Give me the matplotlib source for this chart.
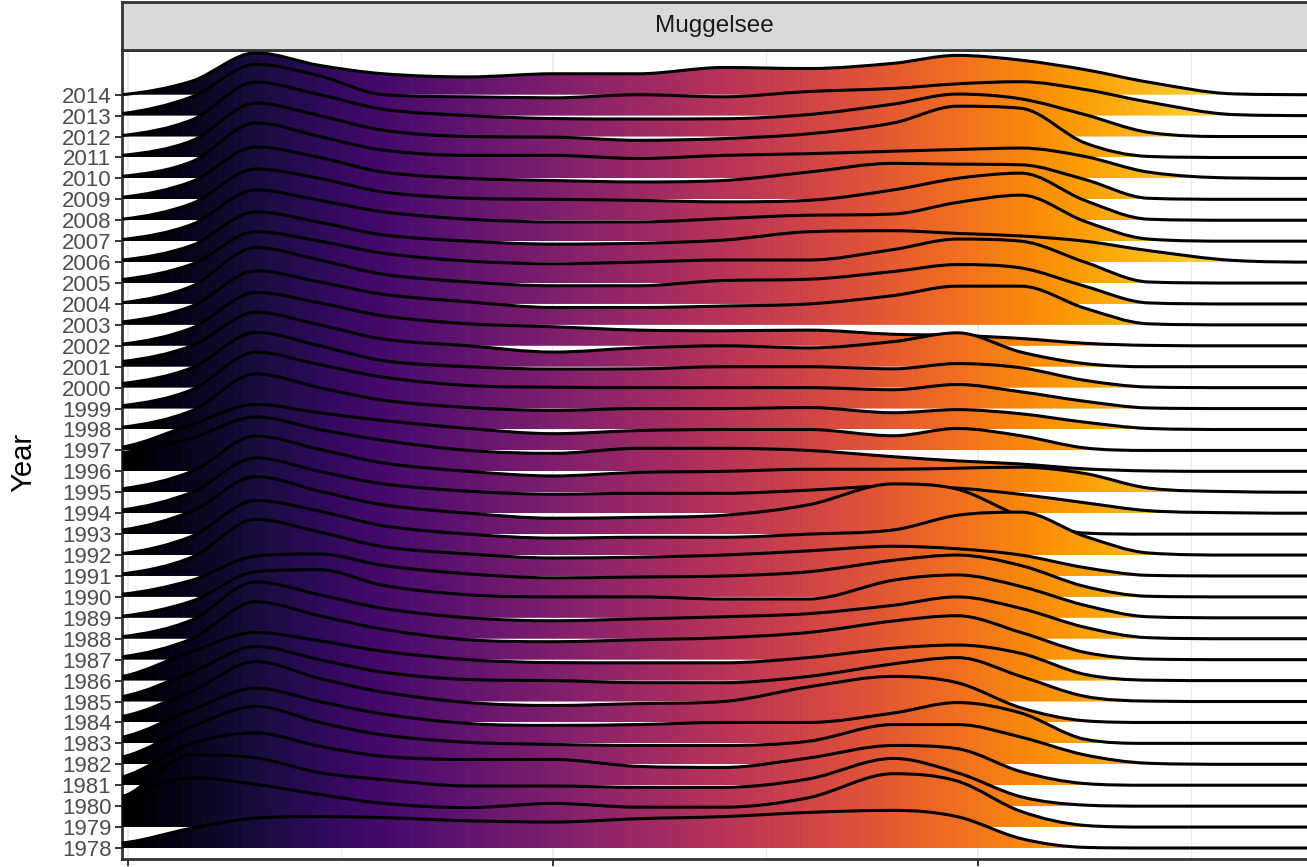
import numpy as np
import matplotlib
matplotlib.use("Agg")
import matplotlib.pyplot as plt
from matplotlib.path import Path
from matplotlib.patches import PathPatch

temps = [-0.14, 1.5, 3, 4.5, 6, 8, 10, 12, 14, 16, 18, 19.5, 21, 22.5, 24, 26, 28]
x_ticks = [0, 10, 20]
x_minor = [5, 15, 25]
lake = "Muggelsee"
y_title = "Year"

# ridge heights, in units of the spacing between two years
r1978 = [0.24, 0.95, 1.43, 1.5, 1.45, 1.3, 1.24, 1.4, 1.5, 1.7, 1.8, 1.5, 0.45, 0.03, 0.0, 0.0, 0.0]
r1979 = [1.48, 2.36, 2.04, 1.56, 1.13, 0.93, 1.13, 0.95, 0.95, 1.4, 2.55, 2.2, 0.75, 0.08, 0.0, 0.0, 0.0]
r1980 = [0.45, 2.45, 2.31, 1.6, 1.27, 0.96, 0.96, 0.9, 0.9, 1.3, 2.28, 1.6, 0.45, 0.05, 0.0, 0.0, 0.0]
r1981 = [0.4, 2.0, 2.5, 1.86, 1.38, 1.23, 1.23, 0.9, 0.85, 1.3, 1.9, 1.75, 0.65, 0.08, 0.0, 0.0, 0.0]
r1982 = [0.35, 1.8, 2.77, 2.0, 1.4, 1.05, 0.95, 0.9, 0.9, 1.1, 1.9, 1.9, 1.3, 0.45, 0.05, 0.0, 0.0]
r1983 = [0.3, 1.6, 2.64, 2.0, 1.4, 0.95, 0.86, 0.9, 1.0, 1.0, 1.45, 1.95, 1.45, 0.2, 0.0, 0.0, 0.0]
r1984 = [0.29, 1.5, 2.91, 2.1, 1.45, 0.95, 0.81, 0.9, 1.0, 1.7, 2.2, 1.9, 0.7, 0.08, 0.0, 0.0, 0.0]
r1985 = [0.24, 1.4, 2.63, 2.0, 1.4, 1.05, 1.0, 0.9, 0.9, 1.2, 1.8, 2.1, 1.2, 0.25, 0.02, 0.0, 0.0]
r1986 = [0.2, 1.4, 2.3, 1.9, 1.4, 1.0, 0.86, 0.85, 0.85, 1.1, 1.55, 1.7, 1.3, 0.3, 0.02, 0.0, 0.0]
r1987 = [0.14, 1.0, 2.77, 2.1, 1.45, 0.95, 0.86, 0.95, 1.05, 1.3, 1.85, 2.1, 1.3, 0.35, 0.03, 0.0, 0.0]
r1988 = [0.1, 0.9, 2.72, 2.1, 1.45, 1.0, 0.86, 0.95, 1.05, 1.2, 1.6, 2.0, 1.45, 0.55, 0.05, 0.0, 0.0]
r1989 = [0.08, 0.8, 2.2, 2.3, 1.55, 1.1, 1.0, 1.0, 0.9, 0.9, 1.8, 2.05, 1.5, 0.6, 0.05, 0.0, 0.0]
r1990 = [0.13, 0.8, 1.95, 2.05, 1.5, 1.1, 0.91, 0.95, 1.0, 1.2, 1.75, 2.0, 1.5, 0.5, 0.03, 0.0, 0.0]
r1991 = [0.1, 0.9, 2.71, 2.1, 1.4, 1.05, 0.86, 0.9, 1.0, 1.2, 1.42, 1.3, 1.0, 0.4, 0.03, 0.0, 0.0]
r1992 = [0.07, 0.9, 2.61, 2.1, 1.4, 1.0, 0.81, 0.85, 0.85, 1.0, 1.2, 1.9, 2.05, 0.9, 0.1, 0.0, 0.0]
r1993 = [0.2, 1.1, 2.75, 2.05, 1.4, 1.0, 0.76, 0.8, 0.9, 1.4, 2.4, 2.15, 0.85, 0.05, 0.0, 0.0, 0.0]
r1994 = [0.16, 1.0, 2.64, 2.0, 1.4, 1.05, 0.91, 0.95, 0.95, 1.1, 1.3, 1.2, 0.9, 0.5, 0.12, 0.02, 0.0]
r1995 = [0.17, 1.0, 2.69, 2.05, 1.4, 1.0, 0.78, 0.95, 1.0, 1.1, 1.1, 1.15, 1.2, 0.9, 0.2, 0.03, 0.0]
r1996 = [0.9, 1.6, 2.6, 2.0, 1.48, 1.0, 0.86, 1.1, 1.1, 1.0, 0.7, 0.5, 0.35, 0.12, 0.02, 0.0, 0.0]
r1997 = [0.16, 1.25, 2.2, 1.8, 1.43, 1.05, 0.8, 0.95, 1.0, 1.0, 0.7, 1.05, 0.7, 0.12, 0.0, 0.0, 0.0]
r1998 = [0.11, 0.9, 2.66, 2.0, 1.4, 1.05, 0.91, 1.0, 1.0, 1.05, 0.8, 0.95, 0.75, 0.35, 0.05, 0.0, 0.0]
r1999 = [0.14, 0.9, 2.69, 2.1, 1.5, 1.1, 1.02, 1.0, 1.0, 1.0, 0.9, 1.15, 0.8, 0.35, 0.03, 0.0, 0.0]
r2000 = [0.2, 0.95, 2.64, 2.0, 1.29, 1.0, 0.89, 0.9, 1.0, 1.0, 0.9, 1.15, 0.95, 0.35, 0.03, 0.0, 0.0]
r2001 = [0.25, 1.0, 2.6, 2.0, 1.32, 1.0, 0.7, 0.9, 1.0, 0.9, 1.2, 1.62, 0.7, 0.15, 0.0, 0.0, 0.0]
r2002 = [0.08, 0.85, 2.55, 2.05, 1.43, 1.05, 0.91, 0.75, 0.72, 0.75, 0.55, 0.5, 0.35, 0.12, 0.02, 0.0, 0.0]
r2003 = [0.14, 0.9, 2.58, 2.05, 1.46, 1.1, 0.83, 0.83, 0.9, 1.0, 1.4, 1.85, 1.85, 0.8, 0.05, 0.0, 0.0]
r2004 = [0.06, 0.85, 2.7, 2.1, 1.42, 1.05, 0.87, 0.87, 1.12, 1.18, 1.55, 1.88, 1.72, 0.85, 0.05, 0.0, 0.0]
r2005 = [0.17, 0.9, 2.45, 2.0, 1.42, 1.05, 0.92, 1.0, 1.1, 1.1, 1.6, 2.1, 2.0, 1.0, 0.05, 0.0, 0.0]
r2006 = [0.1, 0.8, 2.4, 1.9, 1.3, 1.0, 0.86, 0.9, 1.05, 1.45, 1.5, 1.37, 1.25, 1.0, 0.55, 0.08, 0.0]
r2007 = [0.08, 0.8, 2.45, 1.95, 1.4, 1.05, 0.92, 0.92, 1.08, 1.24, 1.3, 1.85, 2.2, 0.95, 0.1, 0.0, 0.0]
r2008 = [0.05, 0.8, 2.45, 2.0, 1.35, 1.05, 1.0, 0.95, 0.88, 0.95, 1.45, 2.0, 2.25, 0.95, 0.05, 0.0, 0.0]
r2009 = [0.1, 0.85, 2.5, 2.0, 1.3, 1.0, 0.9, 0.83, 0.9, 1.3, 1.72, 1.68, 1.65, 0.95, 0.05, 0.0, 0.0]
r2010 = [0.1, 0.8, 2.65, 2.0, 1.35, 1.1, 1.1, 0.95, 1.1, 1.18, 1.3, 1.38, 1.45, 1.05, 0.3, 0.02, 0.0]
r2011 = [0.1, 0.8, 2.6, 2.0, 1.3, 1.0, 0.97, 0.82, 0.9, 1.13, 1.65, 2.45, 2.35, 0.7, 0.05, 0.0, 0.0]
r2012 = [0.05, 0.8, 2.6, 2.0, 1.3, 1.0, 0.86, 0.84, 0.85, 1.05, 1.55, 2.03, 1.8, 1.05, 0.2, 0.0, 0.0]
r2013 = [0.1, 0.9, 2.45, 1.9, 1.0, 0.9, 0.85, 1.0, 0.9, 1.15, 1.3, 1.52, 1.62, 1.25, 0.65, 0.05, 0.0]
r2014 = [0.0, 0.65, 2.0, 1.4, 1.0, 0.85, 1.0, 1.0, 1.3, 1.25, 1.5, 1.88, 1.65, 1.2, 0.6, 0.04, 0.0]

years = list(range(1978, 2015))
ridges = [r1978, r1979, r1980, r1981, r1982, r1983, r1984, r1985, r1986, r1987,
          r1988, r1989, r1990, r1991, r1992, r1993, r1994, r1995, r1996, r1997,
          r1998, r1999, r2000, r2001, r2002, r2003, r2004, r2005, r2006, r2007,
          r2008, r2009, r2010, r2011, r2012, r2013, r2014]

X_LO, X_HI = -0.14, 27.73
Y_LO, Y_HI = 1977.46, 2016.136
X_END = 30.0


def _slopes(xs, ys):
    # catmull-rom tangents, limited (fritsch-carlson) so curves don't overshoot
    d = np.diff(ys) / np.diff(xs)
    m = np.zeros(len(ys))
    m[0] = d[0] * 0.5
    for i in range(1, len(ys) - 1):
        if d[i - 1] * d[i] > 0:
            m[i] = (ys[i + 1] - ys[i - 1]) / (xs[i + 1] - xs[i - 1])
    for k in range(len(d)):
        if d[k] == 0:
            m[k] = m[k + 1] = 0.0
            continue
        a, b = m[k] / d[k], m[k + 1] / d[k]
        s = a * a + b * b
        if s > 9:
            t = 3 / np.sqrt(s)
            m[k] = t * a * d[k]
            m[k + 1] = t * b * d[k]
    return m


def ridge_paths(xs, hs, base):
    xs = np.asarray(xs, float)
    ys = base + np.asarray(hs, float)
    m = _slopes(xs, ys)
    verts = [(xs[0], ys[0])]
    codes = [Path.MOVETO]
    for i in range(len(xs) - 1):
        dx = (xs[i + 1] - xs[i]) / 3
        verts += [(xs[i] + dx, ys[i] + m[i] * dx),
                  (xs[i + 1] - dx, ys[i + 1] - m[i + 1] * dx),
                  (xs[i + 1], ys[i + 1])]
        codes += [Path.CURVE4] * 3
    verts.append((X_END, base))
    codes.append(Path.LINETO)
    line = Path(verts, codes)
    fill = Path(verts + [(xs[0], base), (xs[0], base)],
                codes + [Path.LINETO, Path.CLOSEPOLY])
    return line, fill


plt.rcParams["font.family"] = ["Liberation Sans", "DejaVu Sans"]

W, H = 1307, 867
fig = plt.figure(figsize=(W / 100, H / 100), dpi=100)
left = 122.3 / W
bottom = (H - 859.3) / H
top = (H - 50) / H
ax = fig.add_axes([left, bottom, 1 - left, top - bottom])

grad = np.linspace(X_LO, X_END, 700).reshape(1, -1)
for year, hs in zip(years, ridges):
    z = 2 + 2 * (2014 - year)  # lower ridges sit in front
    line, fill = ridge_paths(temps, hs, year)
    clip = PathPatch(fill, facecolor="none", edgecolor="none")
    ax.add_patch(clip)
    im = ax.imshow(grad, extent=(X_LO, X_END, year, year + max(hs) + 0.3),
                   origin="lower", aspect="auto", cmap="inferno",
                   vmin=0.0, vmax=28.6, interpolation="nearest", zorder=z)
    im.set_clip_path(clip)
    ax.add_patch(PathPatch(line, facecolor="none", edgecolor="black",
                           lw=2.2, zorder=z + 1, joinstyle="round"))

ax.set_xlim(X_LO, X_HI)
ax.set_ylim(Y_LO, Y_HI)
ax.set_xticks(x_ticks)
ax.set_xticks(x_minor, minor=True)
# the tick labels fall below the bottom edge of the picture
ax.set_xticklabels([])
ax.set_yticks(years)
ax.set_yticklabels([str(y) for y in years])
ax.grid(axis="x", which="major", color="#EBEBEB", lw=1.2)
ax.grid(axis="x", which="minor", color="#EBEBEB", lw=0.9)
ax.set_axisbelow(True)
ax.tick_params(axis="both", which="major", length=4.7, width=1.4, color="#333333",
               labelcolor="#4D4D4D", labelsize=16, pad=3.2)
ax.tick_params(axis="x", which="minor", length=0)
for side in ("left", "bottom", "top"):
    ax.spines[side].set_color("#333333")
    ax.spines[side].set_linewidth(2.0)
ax.spines["right"].set_visible(False)

ax.set_ylabel(y_title, fontsize=21, color="black")
ax.yaxis.set_label_coords((23 - 122.3) / (W - 122.3), 0.49)
ax.yaxis.label.set_va("center")

strip = fig.add_axes([left, top, 1 - left, (50 - 1.7) / H])
strip.set_facecolor("#D9D9D9")
strip.set_xticks([])
strip.set_yticks([])
for side in ("left", "bottom", "top"):
    strip.spines[side].set_color("#333333")
    strip.spines[side].set_linewidth(2.0)
strip.spines["right"].set_visible(False)
strip.text(0.5, 0.5, lake, ha="center", va="center", fontsize=17.5,
           color="#1A1A1A", transform=strip.transAxes)

fig.savefig("out.png", dpi=100)
